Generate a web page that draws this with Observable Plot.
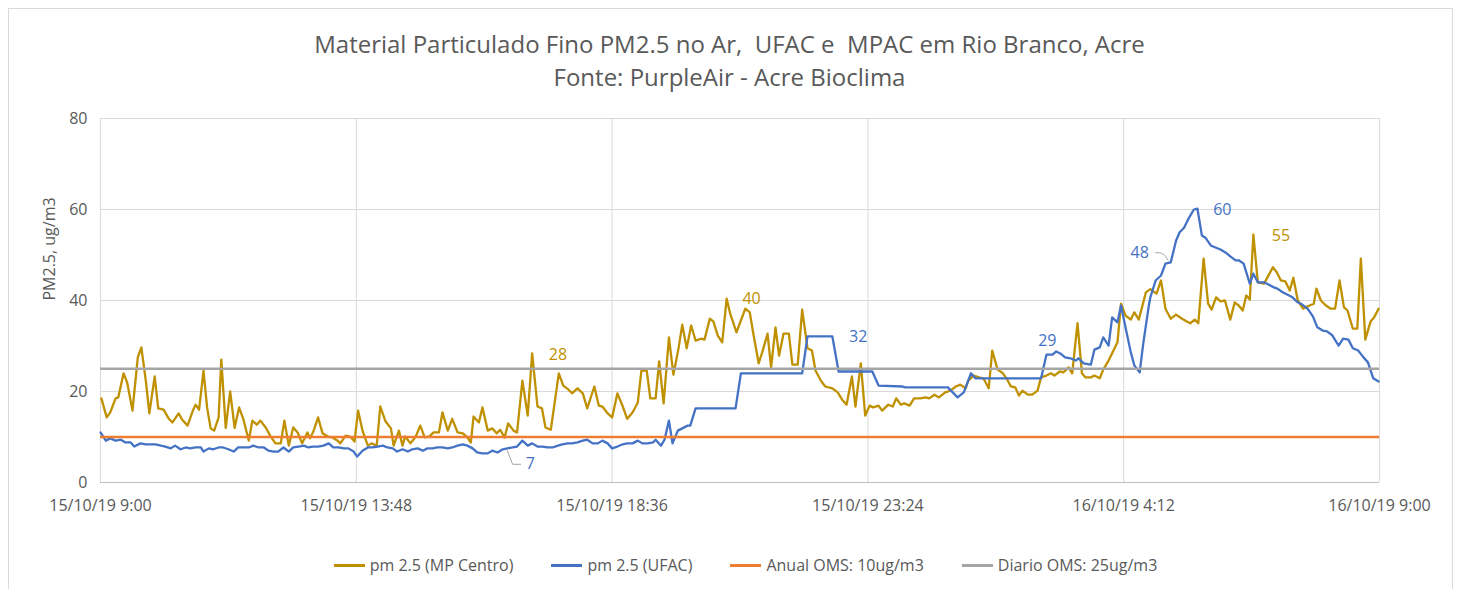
<!DOCTYPE html>
<html><head><meta charset="utf-8">
<script src="https://cdn.jsdelivr.net/npm/d3@7"></script>
<script src="https://cdn.jsdelivr.net/npm/@observablehq/plot@0.6"></script>
<style>
body{margin:0;background:#fff;font-family:"Open Sans",sans-serif;width:1459px;height:589px;overflow:hidden;position:relative;}
#frame{position:absolute;left:8px;top:8px;width:1445px;height:600px;border:1px solid #d9d9d9;box-sizing:border-box;}
#title{position:absolute;left:0;top:27px;width:1459px;text-align:center;color:#595959;font-size:24px;line-height:33px;white-space:pre;}
#chart{position:absolute;left:0;top:100px;}
#legend{position:absolute;top:553px;left:16px;width:1459px;display:flex;justify-content:center;gap:38px;font-size:16px;color:#595959;line-height:24px;}
#legend .it{display:flex;align-items:center;gap:5px;white-space:nowrap;}
#legend .sw{width:31px;height:3px;}
</style></head>
<body>
<div id="frame"></div>
<div id="title"></div>
<div id="chart"></div>
<div id="legend"></div>
<script>
// ---- data ----
const titleLines = ["Material Particulado Fino PM2.5 no Ar,  UFAC e  MPAC em Rio Branco, Acre", "Fonte: PurpleAir - Acre Bioclima"];
const yLabel = "PM2.5, ug/m3";
const seriesNames = ["pm 2.5 (MP Centro)", "pm 2.5 (UFAC)", "Anual OMS: 10ug/m3", "Diario OMS: 25ug/m3"];
const xTickMinutes = [0, 288, 576, 864, 1152, 1440];
const xTickLabels = ["15/10/19 9:00", "15/10/19 13:48", "15/10/19 18:36", "15/10/19 23:24", "16/10/19 4:12", "16/10/19 9:00"];
const yTicks = [0, 20, 40, 60, 80];
const anualOMS = 10;
const diarioOMS = 25;

// minutes after 15/10/19 9:00
const centroMin = [1,7,11,17,20,26,30,36,42,46,51,55,61,65,71,77,81,88,92,98,104,107,111,116,120,124,128,133,136,141,146,151,156,161,167,171,176,180,186,191,197,203,207,212,217,222,227,233,236,240,245,250,256,261,267,270,276,281,286,290,295,301,305,311,315,321,327,330,336,340,343,349,355,360,365,370,375,381,385,391,396,402,408,413,417,420,426,430,436,441,446,450,455,459,465,469,475,481,486,492,497,501,507,516,521,527,531,537,543,548,556,561,565,571,576,582,588,593,599,605,609,615,619,625,629,634,640,645,651,655,660,665,670,676,680,686,690,695,700,705,709,716,721,726,731,735,741,745,751,755,760,764,769,775,779,785,790,796,801,805,811,816,824,830,835,840,846,850,856,861,866,870,876,880,887,892,896,901,905,911,916,923,929,933,939,944,951,957,963,968,974,977,983,989,994,1000,1004,1010,1016,1020,1025,1030,1034,1038,1044,1049,1055,1059,1065,1070,1074,1080,1084,1090,1094,1100,1105,1109,1115,1119,1125,1129,1135,1139,1145,1149,1154,1160,1164,1169,1177,1182,1189,1194,1199,1205,1211,1216,1222,1227,1232,1236,1242,1247,1251,1256,1261,1266,1272,1277,1282,1286,1290,1294,1298,1303,1310,1320,1324,1329,1334,1339,1343,1348,1354,1360,1366,1369,1374,1379,1385,1390,1395,1400,1404,1410,1415,1419,1424,1430,1434,1439];
const centroVal = [18.5,14.3,15.4,18.5,18.7,24,22,15.8,27.5,29.7,22.4,15.2,23.3,16.3,16,14,13.2,15.2,13.8,12.5,15.8,17.1,16,24.6,16.5,11.9,11.4,14.3,27,12,20,12,16.5,13.8,9.2,13.6,12.7,13.6,12.1,10.3,8.6,8.6,13.6,8.1,12.1,11,8.6,11,9.7,11.4,14.3,10.8,10.1,9.9,9.2,8.6,10.3,10.1,9,15.8,11.4,8.1,8.6,8.1,16.7,13.4,11.9,8.1,11.4,8.1,10.1,8.6,10.1,12.5,9.9,10.1,11,11,15.4,11.4,14,11,10.8,9.9,8.8,14.5,13.2,16.5,11.4,11.9,10.8,11.6,9.9,13,11.4,11,22.4,14.7,28.4,16.7,16.3,12.1,11.6,24,21.3,20.4,19.6,20.7,19.6,16.3,21.1,16.9,16.7,15.2,14.3,19.6,16.7,14,15.4,17.6,24.6,24.6,18.5,18.5,26.6,17.4,31.9,23.7,29.7,34.7,29.5,34.5,31.2,31.6,31.4,36,35.4,32.3,30.8,40.4,37.1,33,35.6,38.2,37.4,32.7,26.2,28.6,32.7,25.3,34.1,27.9,32.7,32.7,25.9,25.9,38,29.5,29,24.6,22.4,21.1,20.7,19.8,18.2,17.1,23.3,16.7,26.2,14.7,16.9,16.5,16.9,15.8,17.1,16.7,18.5,17.1,17.4,16.9,18.5,18.5,18.7,18.5,19.3,18.7,19.8,20.2,21.1,21.5,20.7,22.4,23.5,23.1,22.9,20.7,29,24.8,24,22.9,21.1,20.9,19.1,20.2,19.3,19.3,20.2,23.1,23.5,24,23.5,24.4,24.2,25.3,24,35,24,23.1,23.1,23.5,22.9,24.8,26.8,28.4,30.8,39.3,36.7,35.8,37.4,35.8,41.8,42.5,41.5,44.4,38.2,36,36.9,36.2,35.5,35,35.8,35,49.2,39.3,38,40.7,39.8,40,35.8,39.6,38.8,37.8,41.1,40.2,54.5,44,43.7,47.3,46.3,44.4,44.2,42.2,45,40,38.2,38.8,39.3,42.6,40,39,38.2,38.2,44.4,38.5,37.8,33.8,33.8,49.2,31.4,35.4,36.3,38.2];

const ufacMin = [0,6,11,17,23,28,34,38,45,51,56,62,68,73,79,84,90,96,101,107,113,116,122,127,133,138,144,150,155,161,167,172,178,184,189,195,200,206,212,217,223,229,234,239,245,251,257,262,268,274,279,285,289,295,301,306,312,318,323,329,334,340,346,351,357,363,368,374,379,385,391,396,402,408,413,419,424,430,436,441,447,453,458,464,469,475,481,486,492,498,503,509,515,520,526,531,537,543,548,554,560,565,571,576,582,588,593,599,605,610,616,622,625,631,635,640,644,650,655,661,664,670,715,721,790,796,824,831,869,876,903,906,954,965,972,980,985,1059,1065,1072,1076,1081,1086,1092,1098,1101,1107,1115,1119,1125,1129,1135,1139,1145,1149,1154,1160,1164,1170,1174,1180,1182,1188,1194,1199,1205,1211,1215,1220,1225,1231,1235,1240,1244,1250,1256,1261,1267,1272,1278,1282,1287,1294,1298,1303,1310,1315,1321,1325,1331,1336,1342,1348,1353,1359,1365,1370,1376,1381,1387,1394,1399,1405,1410,1416,1422,1427,1433,1439];
const ufacVal = [11,9.2,9.7,9.2,9.4,8.8,8.8,7.9,8.6,8.4,8.4,8.4,8.1,7.9,7.5,8.1,7.3,7.7,7.5,7.7,7.7,6.8,7.5,7.3,7.7,7.7,7.3,6.8,7.7,7.7,7.7,8.1,7.7,7.7,7,6.8,6.8,7.7,6.8,7.7,7.9,8.1,7.7,7.9,7.9,8.1,8.6,7.7,7.7,7.5,7.5,6.8,5.7,7,7.7,7.7,7.9,8.1,7.7,7.5,6.8,7.3,6.8,7.3,7.5,7,7.5,7.5,7.7,7.7,7.5,7.7,8.1,8.4,8.1,7.5,6.6,6.4,6.4,7,6.6,7.3,7.5,7.7,7.9,9.2,8.1,8.6,7.9,7.9,7.7,7.7,8.1,8.4,8.6,8.6,8.8,9.2,9.4,8.6,8.6,9.2,8.6,7.5,7.9,8.4,8.6,8.6,9.2,8.6,8.6,8.8,9.4,8.1,9.4,13.6,8.6,11.4,11.9,12.5,12.5,16.3,16.3,24,24,32.1,32.1,24.4,24.4,21.3,21.1,20.9,20.9,18.7,19.8,24,22.9,22.9,28.1,28.1,28.8,28.3,27.5,27.3,26.8,27.3,26.2,25.9,29.2,29.7,31.9,30.1,36.3,35.2,38.9,34.1,28.6,25.7,24.2,30.5,38.5,40.7,44.4,45.5,48.1,48.4,53.2,55,56,58,60,60.2,54.3,53.8,52.1,51.6,51.2,50.5,49.7,48.8,48.8,48.1,43.7,45.9,44,44,43.5,42.9,42.6,41.8,41.3,40.7,39.6,39.1,38.2,36.5,34.1,33.4,33.2,32.3,30.1,31.6,31.4,29.5,29,27.5,26.4,22.9,22.2];

// data labels shown on the chart
const labelText = ["28", "40", "32", "29", "48", "60", "55", "7"];
const labelSeries = [0, 0, 1, 1, 1, 1, 0, 1];
const labelMin = [515, 733, 853, 1066, 1170, 1263, 1329, 484];
const labelVal = [28.1, 40.4, 32.1, 31.2, 50.5, 60, 54.1, 4.0];
const labelBold = [false, false, false, false, false, true, true, false];
// leader lines for labels "7" and "48"
const leader7Min = [458, 464, 473];
const leader7Val = [7.0, 4.0, 4.0];
const leader48Min = [1188, 1197, 1202];
const leader48Val = [50.5, 50.5, 48.8];

// ---- styles ----
const colors = ["#BF9000", "#4472C4", "#ED7D31", "#A5A5A5"];
const textColor = "#595959";

const start = Date.UTC(2019, 9, 15, 9, 0);
const toDate = m => new Date(start + m * 60000);
const centro = centroMin.map((m, i) => ({t: toDate(m), v: centroVal[i]}));
const ufac = ufacMin.map((m, i) => ({t: toDate(m), v: ufacVal[i]}));
const tickDates = xTickMinutes.map(toDate);
const tickLabelMap = new Map(tickDates.map((d, i) => [d.getTime(), xTickLabels[i]]));
const labels = labelText.map((s, i) => ({t: toDate(labelMin[i]), v: labelVal[i], s, c: colors[labelSeries[i]], b: labelBold[i]}));
const l7 = leader7Min.map((m, i) => ({t: toDate(m), v: leader7Val[i]}));
const l48 = leader48Min.map((m, i) => ({t: toDate(m), v: leader48Val[i]}));

document.getElementById("title").textContent = titleLines.join("\n");

const chart = Plot.plot({
  width: 1459, height: 420,
  marginLeft: 100, marginRight: 80, marginTop: 18, marginBottom: 38,
  style: {fontFamily: "Open Sans, sans-serif", fontSize: "16px", color: textColor, background: "transparent", overflow: "visible"},
  x: {type: "utc", domain: [toDate(0), toDate(1440)]},
  y: {domain: [0, 80]},
  marks: [
    Plot.gridY(yTicks.filter(d => d > 0), {stroke: "#d9d9d9", strokeOpacity: 1}),
    Plot.gridX(tickDates, {stroke: "#d9d9d9", strokeOpacity: 1}),
    Plot.ruleY([0], {stroke: "#bfbfbf", strokeWidth: 1}),
    Plot.axisY(yTicks, {tickSize: 0, tickPadding: 13, label: null, fill: textColor, fontSize: 16}),
    Plot.axisX(tickDates, {tickSize: 0, tickPadding: 17, label: null, fill: textColor, fontSize: 16, tickFormat: d => tickLabelMap.get(d.getTime())}),
    Plot.text([yLabel], {frameAnchor: "left", dx: -51, rotate: -90, text: d => d, fill: textColor, fontSize: 16}),
    Plot.line(centro, {x: "t", y: "v", stroke: colors[0], strokeWidth: 2.3, strokeLinejoin: "round"}),
    Plot.line(ufac, {x: "t", y: "v", stroke: colors[1], strokeWidth: 2.3, strokeLinejoin: "round"}),
    Plot.ruleY([anualOMS], {stroke: colors[2], strokeWidth: 2.3}),
    Plot.ruleY([diarioOMS], {stroke: colors[3], strokeWidth: 2.3}),
    Plot.line(l7, {x: "t", y: "v", stroke: "#a6a6a6", strokeWidth: 1}),
    Plot.line(l48, {x: "t", y: "v", stroke: "#a6a6a6", strokeWidth: 1, curve: "basis"}),
    Plot.text(labels, {x: "t", y: "v", text: "s", fill: "c", fontSize: 16, fontWeight: d => d.b ? 600 : 400})
  ]
});
document.getElementById("chart").appendChild(chart);

const legend = document.getElementById("legend");
seriesNames.forEach((n, i) => {
  const it = document.createElement("div"); it.className = "it";
  const sw = document.createElement("div"); sw.className = "sw"; sw.style.background = colors[i];
  const tx = document.createElement("span"); tx.textContent = n;
  it.appendChild(sw); it.appendChild(tx); legend.appendChild(it);
});
</script>
</body></html>
